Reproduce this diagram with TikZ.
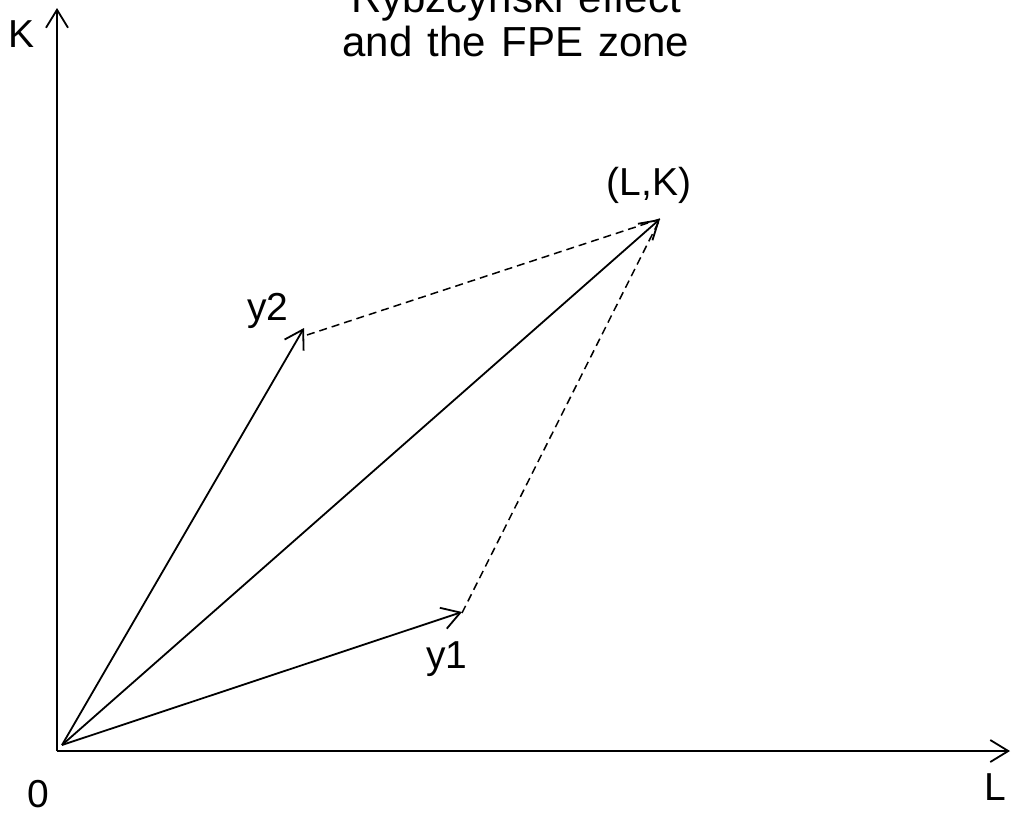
\documentclass[tikz,border=0pt]{standalone}
\usepackage{fontspec}
\setmainfont{Liberation Sans}
\newfontfamily\titlefont[WordSpace=1.3]{Liberation Sans}
\usetikzlibrary{arrows.meta}
\tikzset{
  axis/.style={line width=1.8pt, -{Straight Barb[length=18pt,width=22pt,line width=1.8pt]}},
  vec/.style={line width=1.8pt, -{Straight Barb[length=18pt,width=22pt,line width=1.8pt]}},
  dashline/.style={line width=1.5pt, dash pattern=on 8pt off 5pt},
  lbl/.style={font=\fontsize{39}{44}\selectfont, inner sep=0pt, anchor=base},
  ttl/.style={font=\titlefont\fontsize{42}{46}\selectfont, inner sep=0pt, anchor=base},
}
\begin{document}
\begin{tikzpicture}[x=1pt,y=-1pt]
\useasboundingbox (0,0) rectangle (1012,825);
\coordinate (C) at (57,751);
\coordinate (Ytop) at (57,8);
\coordinate (Xend) at (1010,751);
\coordinate (O) at (62,745);
\coordinate (Y2) at (304,328);
\coordinate (Y1) at (462,612);
\coordinate (LK) at (660,219);
\coordinate (Y2d) at (307,335);
\coordinate (Y1d) at (462,613);
\draw[axis] (C) -- (Ytop);
\draw[axis] (C) -- (Xend);
\draw[vec] (O) -- (Y2);
\draw[vec] (O) -- (Y1);
\draw[vec] (O) -- (LK);
\draw[dashline] (Y2d) -- (LK);
\draw[dashline] (Y1d) -- (LK);
\node[lbl] (kl) at (22,47) {K};
\node[lbl] (ll) at (995,800) {L};
\node[lbl] (zl) at (38,807) {0};
\node[lbl] (y2l) at (268,320) {y2};
\node[lbl] (y1l) at (447,668) {y1};
\node[lbl] (lkl) at (649,195) {(L,K)};
\node[ttl] (t1) at (516,12) {Rybzcynski effect};
\node[ttl] (t2) at (516,56) {and the FPE zone};
\end{tikzpicture}
\end{document}
